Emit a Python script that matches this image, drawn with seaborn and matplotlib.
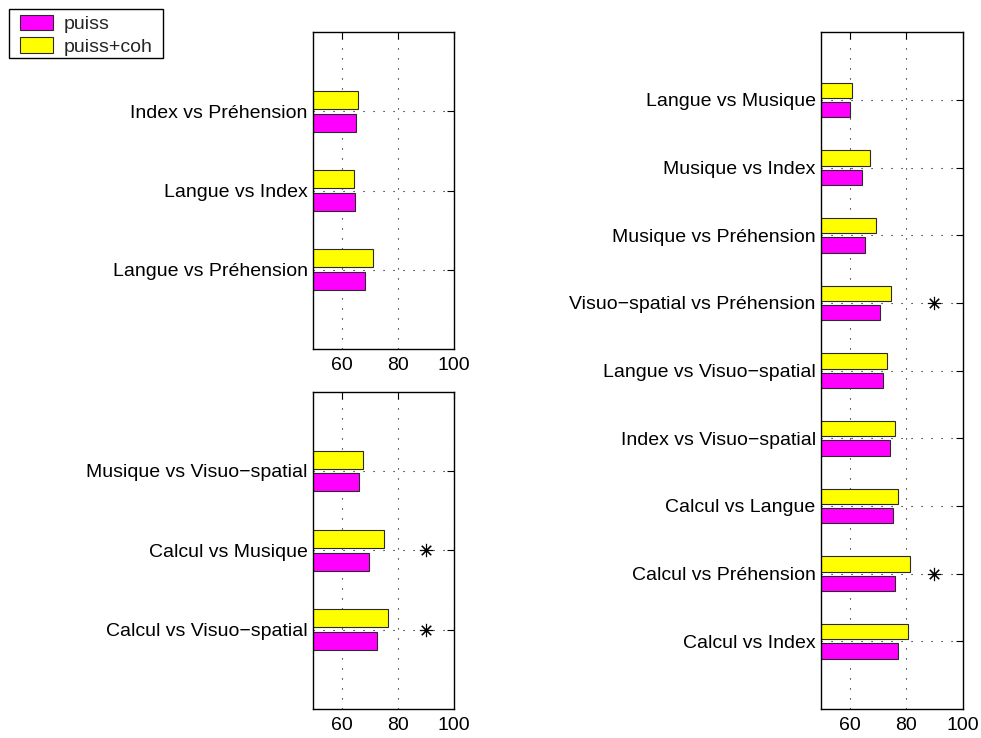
import numpy as np
import pandas as pd
import matplotlib
matplotlib.use("Agg")
import matplotlib.pyplot as plt
from matplotlib.patches import Patch, Rectangle
import seaborn as sns

sns.set_style("white")
plt.rcParams["font.family"] = ["Liberation Sans", "DejaVu Sans"]

# ---- data -------------------------------------------------------------
series = ["puiss", "puiss+coh"]
colors = {"puiss": "#ff00ff", "puiss+coh": "#ffff00"}

# top-left panel (listed bottom to top)
tl_labels = ["Langue vs Préhension", "Langue vs Index", "Index vs Préhension"]
tl_puiss = [68.4, 64.8, 65.0]
tl_coh = [71.3, 64.3, 66.0]
tl_signif = []

# bottom-left panel (listed bottom to top)
bl_labels = ["Calcul vs Visuo\u2212spatial", "Calcul vs Musique",
             "Musique vs Visuo\u2212spatial"]
bl_puiss = [72.6, 69.9, 66.2]
bl_coh = [76.5, 75.1, 67.6]
bl_signif = [0, 1]

# right panel (listed bottom to top)
r_labels = ["Calcul vs Index", "Calcul vs Préhension", "Calcul vs Langue",
            "Index vs Visuo\u2212spatial", "Langue vs Visuo\u2212spatial",
            "Visuo\u2212spatial vs Préhension", "Musique vs Préhension",
            "Musique vs Index", "Langue vs Musique"]
r_puiss = [77.3, 76.0, 75.2, 74.4, 71.9, 70.6, 65.4, 64.3, 60.2]
r_coh = [80.8, 81.4, 77.0, 75.9, 73.2, 74.8, 69.3, 67.4, 60.7]
r_signif = [1, 5]

x_ticks = [60, 80, 100]
x_range = (50, 100)
star_x = 90

# ---- figure -----------------------------------------------------------
W, H = 981, 738
fig = plt.figure(figsize=(W / 100, H / 100), dpi=100)
ax_tl = fig.add_axes([0.3194, 0.5271, 0.1437, 0.4295])
ax_bl = fig.add_axes([0.3194, 0.0393, 0.1437, 0.4300])
ax_r = fig.add_axes([0.8372, 0.0393, 0.1441, 0.9170])

dots = (0, (1, 8))


def panel(ax, labels, puiss, coh, signif):
    n = len(labels)
    pos = np.arange(1, n + 1)
    df = pd.DataFrame({
        "pos": np.concatenate([pos, pos]),
        "value": np.concatenate([puiss, coh]),
        "mesure": [series[0]] * n + [series[1]] * n,
    })
    sns.barplot(data=df, x="value", y="pos", hue="mesure", hue_order=series,
                palette=colors, orient="h", native_scale=True,
                width=0.572, gap=0.2, edgecolor="#2a2a2a", linewidth=0.8,
                errorbar=None, legend=False, ax=ax, saturation=1)
    if signif:
        ax.plot([star_x] * len(signif), pos[signif], ls="none",
                marker=(8, 2, 0), ms=9.5, mew=0.8, color="black", zorder=5)
    ax.set_xlim(*x_range)
    ax.set_ylim(0, n + 1)
    ax.set_xticks(x_ticks)
    ax.set_yticks(pos)
    ax.set_yticklabels(labels)
    ax.set_xlabel("")
    ax.set_ylabel("")
    ax.set_axisbelow(True)
    ax.grid(True, color="black", linestyle=dots, linewidth=0.8)
    ax.tick_params(direction="in", top=True, right=True, length=5,
                   width=0.8, labelsize=14, colors="black")
    ax.tick_params(axis="y", pad=4)
    ax.tick_params(axis="x", pad=6)
    for s in ax.spines.values():
        s.set_visible(True)
        s.set_color("black")
        s.set_linewidth(1.0)


panel(ax_tl, tl_labels, tl_puiss, tl_coh, tl_signif)
panel(ax_bl, bl_labels, bl_puiss, bl_coh, bl_signif)
panel(ax_r, r_labels, r_puiss, r_coh, r_signif)

# legend entries, with a plain rectangular frame around them
handles = [Patch(facecolor=colors[s], edgecolor="#2a2a2a", linewidth=0.8,
                 label=s) for s in series]
fig.legend(handles=handles, loc="upper left",
           bbox_to_anchor=(14 / W, 1 - 9 / H), borderaxespad=0,
           fontsize=14, frameon=False,
           handlelength=1.7, handleheight=0.85, handletextpad=0.55,
           labelspacing=0.2, borderpad=0.3)
fig.patches.append(Rectangle((9 / W, 1 - 58 / H), 154 / W, 49 / H,
                             transform=fig.transFigure, fill=False,
                             edgecolor="black", linewidth=1.0))

fig.savefig("out.png", dpi=100, facecolor="white")
